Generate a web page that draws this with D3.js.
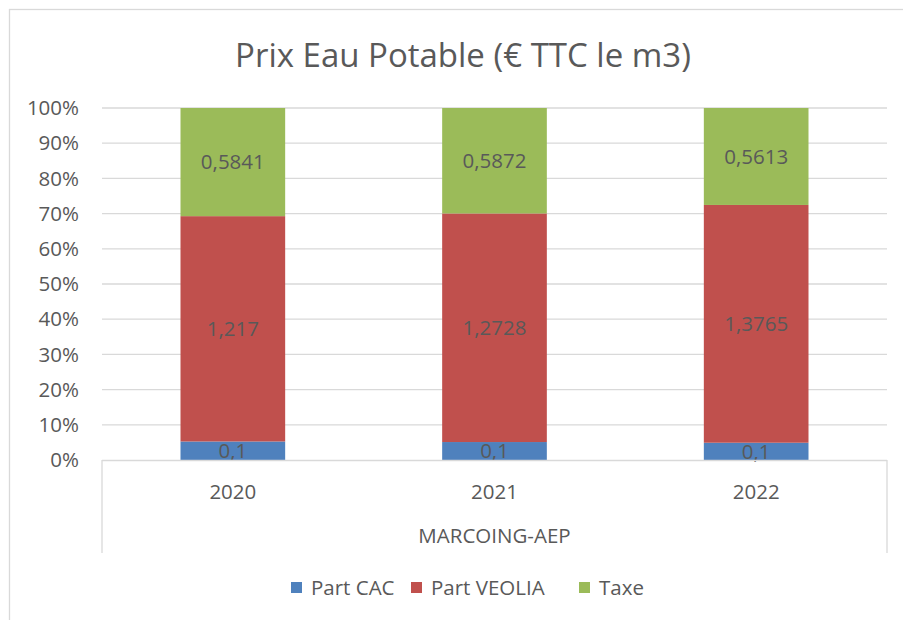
<!DOCTYPE html>
<html>
<head>
<meta charset="utf-8">
<script src="https://cdn.jsdelivr.net/npm/d3@7"></script>
<style>
  body{margin:0;background:#fff;}
  svg text{font-family:"Open Sans","Liberation Sans",sans-serif;fill:#595959;}
</style>
</head>
<body>
<svg id="svg" width="903" height="620"></svg>
<script>
// data
const years = ["2020","2021","2022"];
const group = "MARCOING-AEP";
const partCAC = [0.1, 0.1, 0.1];
const partVeolia = [1.217, 1.2728, 1.3765];
const taxe = [0.5841, 0.5872, 0.5613];
const seriesNames = ["Part CAC","Part VEOLIA","Taxe"];
const seriesColors = ["#4F81BD","#C0504D","#9BBB59"];
const yTicks = [0,0.1,0.2,0.3,0.4,0.5,0.6,0.7,0.8,0.9,1];

(function(){
const svg = d3.select("#svg");

// chart border
svg.append("rect")
  .attr("x",9.5).attr("y",9.5).attr("width",900).attr("height",620)
  .attr("fill","none").attr("stroke","#d9d9d9").attr("stroke-width",1.3);

svg.append("text")
  .attr("x",463).attr("y",55).attr("dy","0.35em")
  .attr("text-anchor","middle")
  .style("font-size","33px")
  .text("Prix Eau Potable (€ TTC le m3)");

const pL=102, pR=887, pT=108, pB=460;

const x = d3.scaleBand().domain(years).range([pL,pR]).paddingInner(0.6).paddingOuter(0.3);
const y = d3.scaleLinear().domain([0,1]).range([pB,pT]);

// gridlines
svg.append("g").selectAll("line").data(yTicks.slice(1)).enter().append("line")
  .attr("x1",pL).attr("x2",pR)
  .attr("y1",d=>y(d)).attr("y2",d=>y(d))
  .attr("stroke","#d9d9d9").attr("stroke-width",1.3);

// y labels
svg.append("g").selectAll("text").data(yTicks).enter().append("text")
  .attr("x",79).attr("y",d=>y(d)).attr("dy","0.35em")
  .attr("text-anchor","end")
  .style("font-size","20.5px")
  .text(d=>Math.round(d*100)+"%");

// stacked rows
const rows = years.map((yr,i)=>({year:yr, "Part CAC":partCAC[i], "Part VEOLIA":partVeolia[i], "Taxe":taxe[i]}));
const stack = d3.stack().keys(seriesNames).offset(d3.stackOffsetExpand);
const layers = stack(rows);

const fmt = v => String(v).replace(".",",");

layers.forEach((layer,si)=>{
  const g = svg.append("g");
  g.selectAll("rect").data(layer).enter().append("rect")
    .attr("x",d=>x(d.data.year))
    .attr("width",x.bandwidth())
    .attr("y",d=>y(d[1]))
    .attr("height",d=>y(d[0])-y(d[1]))
    .attr("fill",seriesColors[si]);
  g.selectAll("text").data(layer).enter().append("text")
    .attr("x",d=>x(d.data.year)+x.bandwidth()/2)
    .attr("y",d=>(y(d[0])+y(d[1]))/2).attr("dy","0.35em")
    .attr("text-anchor","middle")
    .style("font-size","20.5px")
    .text(d=>fmt(d.data[layer.key]));
});

// category axis box
const axisCol = "#d9d9d9";
svg.append("line").attr("x1",pL).attr("x2",pR).attr("y1",pB+0.5).attr("y2",pB+0.5)
  .attr("stroke",axisCol).attr("stroke-width",1.3);
svg.append("line").attr("x1",pL).attr("x2",pL).attr("y1",pB).attr("y2",553)
  .attr("stroke",axisCol).attr("stroke-width",1.3);
svg.append("line").attr("x1",pR).attr("x2",pR).attr("y1",pB).attr("y2",553)
  .attr("stroke",axisCol).attr("stroke-width",1.3);

svg.append("g").selectAll("text").data(years).enter().append("text")
  .attr("x",d=>x(d)+x.bandwidth()/2).attr("y",492).attr("dy","0.35em")
  .attr("text-anchor","middle")
  .style("font-size","20.5px")
  .text(d=>d);

svg.append("text")
  .attr("x",(pL+pR)/2).attr("y",536).attr("dy","0.35em")
  .attr("text-anchor","middle")
  .style("font-size","20.5px")
  .text(group);

// legend
const legendX = [291, 411, 579];
const lg = svg.append("g");
seriesNames.forEach((n,i)=>{
  lg.append("rect").attr("x",legendX[i]).attr("y",582).attr("width",11).attr("height",11).attr("fill",seriesColors[i]);
  lg.append("text").attr("x",legendX[i]+20).attr("y",588).attr("dy","0.35em").style("font-size","20.5px").text(n);
});
})();
</script>
</body>
</html>
